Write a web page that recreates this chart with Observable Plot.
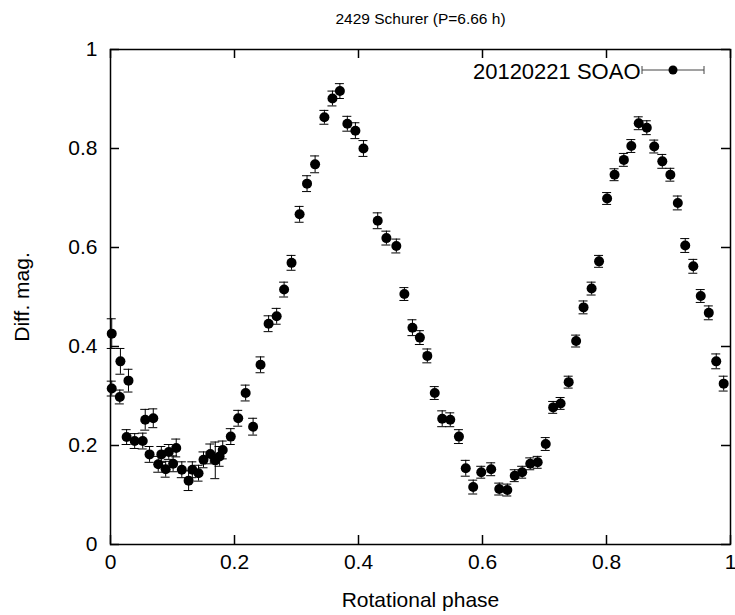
<!DOCTYPE html>
<html><head><meta charset="utf-8">
<script src="https://cdn.jsdelivr.net/npm/d3@7"></script>
<script src="https://cdn.jsdelivr.net/npm/@observablehq/plot@0.6"></script>
<style>
body{margin:0;background:#fff;}
#wrap{position:relative;width:735px;height:615px;font-family:"Liberation Sans",Arial,sans-serif;}
#legend{position:absolute;left:0;top:0;pointer-events:none;}
</style></head><body><div id="wrap"></div>
<script>
const title = "2429 Schurer (P=6.66 h)";
const seriesName = "20120221 SOAO";
const xLabel = "Rotational phase";
const yLabel = "Diff. mag.";
const xTicks = [0, 0.2, 0.4, 0.6, 0.8, 1];
const yTicks = [0, 0.2, 0.4, 0.6, 0.8, 1];

const phase = [0.002,0.002,0.015,0.016,0.026,0.029,0.039,0.052,0.056,0.063,0.069,0.077,0.082,0.089,0.094,0.101,0.106,0.115,0.126,0.132,0.142,0.150,0.161,0.169,0.176,0.181,0.194,0.206,0.218,0.230,0.242,0.255,0.268,0.280,0.292,0.305,0.317,0.330,0.345,0.358,0.370,0.382,0.395,0.408,0.431,0.445,0.461,0.474,0.487,0.499,0.511,0.523,0.535,0.548,0.562,0.573,0.585,0.598,0.614,0.627,0.640,0.652,0.664,0.677,0.689,0.702,0.714,0.726,0.739,0.751,0.763,0.776,0.788,0.801,0.813,0.828,0.840,0.852,0.865,0.877,0.890,0.903,0.915,0.927,0.940,0.952,0.965,0.977,0.989];
const mag = [0.426,0.315,0.298,0.370,0.217,0.331,0.209,0.209,0.252,0.182,0.255,0.162,0.182,0.152,0.187,0.163,0.195,0.151,0.129,0.151,0.144,0.171,0.183,0.170,0.178,0.191,0.218,0.255,0.306,0.238,0.363,0.446,0.461,0.515,0.569,0.667,0.729,0.768,0.863,0.901,0.916,0.850,0.836,0.800,0.654,0.619,0.603,0.506,0.438,0.418,0.381,0.306,0.254,0.252,0.218,0.154,0.116,0.146,0.152,0.112,0.110,0.139,0.146,0.163,0.166,0.203,0.277,0.285,0.328,0.411,0.479,0.517,0.572,0.699,0.747,0.777,0.805,0.851,0.842,0.804,0.774,0.747,0.690,0.604,0.562,0.502,0.468,0.370,0.325];
const err = [0.030,0.015,0.014,0.026,0.015,0.023,0.015,0.016,0.021,0.016,0.019,0.016,0.016,0.016,0.015,0.016,0.018,0.016,0.020,0.016,0.016,0.016,0.020,0.037,0.020,0.018,0.016,0.016,0.016,0.017,0.016,0.016,0.016,0.015,0.015,0.016,0.016,0.017,0.014,0.015,0.015,0.015,0.016,0.016,0.016,0.014,0.014,0.013,0.016,0.014,0.014,0.013,0.016,0.014,0.014,0.016,0.014,0.012,0.013,0.012,0.012,0.012,0.012,0.012,0.012,0.013,0.012,0.012,0.012,0.012,0.013,0.013,0.012,0.012,0.012,0.013,0.013,0.013,0.014,0.013,0.014,0.013,0.014,0.014,0.014,0.013,0.014,0.015,0.015];

const data = phase.map((p, i) => ({phase: p, mag: mag[i], lo: mag[i] - err[i], hi: mag[i] + err[i]}));

const W = 735, H = 615, mL = 110, mR = 5, mT = 49, mB = 71;
const innerH = H - mT - mB, innerW = W - mL - mR;
const font = "'Liberation Sans', Arial, sans-serif";
const fmt = d => String(d);

const chart = Plot.plot({
  width: W, height: H,
  marginLeft: mL, marginRight: mR, marginTop: mT, marginBottom: mB,
  style: {fontFamily: font, fontSize: "21px", color: "#000", background: "#fff", overflow: "visible"},
  x: {domain: [0, 1]},
  y: {domain: [0, 1]},
  marks: [
    Plot.axisX(xTicks, {tickSize: 0, tickPadding: 10, tickFormat: fmt, label: null, fontSize: 21}),
    Plot.axisY(yTicks, {tickSize: 0, tickPadding: 13, tickFormat: fmt, label: null, fontSize: 21}),
    Plot.ruleX(xTicks, {x: d => d, insetTop: innerH - 9, stroke: "#000", strokeWidth: 1.5}),
    Plot.ruleX(xTicks, {x: d => d, insetBottom: innerH - 9, stroke: "#000", strokeWidth: 1.5}),
    Plot.ruleY(yTicks, {y: d => d, insetRight: innerW - 9, stroke: "#000", strokeWidth: 1.5}),
    Plot.ruleY(yTicks, {y: d => d, insetLeft: innerW - 9, stroke: "#000", strokeWidth: 1.5}),
    Plot.frame({stroke: "#000", strokeWidth: 1.5}),
    Plot.ruleX(data, {x: "phase", y1: "lo", y2: "hi", stroke: "#000", strokeWidth: 1}),
    Plot.ruleY(data, {y: "lo", x1: "phase", x2: "phase", insetLeft: -4.5, insetRight: -4.5, stroke: "#000", strokeWidth: 1}),
    Plot.ruleY(data, {y: "hi", x1: "phase", x2: "phase", insetLeft: -4.5, insetRight: -4.5, stroke: "#000", strokeWidth: 1}),
    Plot.dot(data, {x: "phase", y: "mag", r: 5, fill: "#000", stroke: "none"}),
    Plot.text([title], {frameAnchor: "top", dy: -30, lineAnchor: "middle", textAnchor: "middle", fontSize: 15.5, fill: "#000"}),
    Plot.text([xLabel], {frameAnchor: "bottom", dy: 56, lineAnchor: "middle", textAnchor: "middle", fontSize: 21, fill: "#000"}),
    Plot.text([yLabel], {frameAnchor: "left", dx: -88, rotate: -90, lineAnchor: "middle", textAnchor: "middle", fontSize: 21, fill: "#000"}),
    Plot.text([seriesName], {frameAnchor: "top-right", dx: -90, dy: 22, lineAnchor: "middle", textAnchor: "end", fontSize: 22, fill: "#000"})
  ]
});

const wrap = document.getElementById("wrap");
wrap.appendChild(chart);

// legend sample (error bar + point)
const ns = "http://www.w3.org/2000/svg";
const lg = document.createElementNS(ns, "svg");
lg.setAttribute("id", "legend");
lg.setAttribute("width", W);
lg.setAttribute("height", H);
const x0 = W - mR - 88, x1 = W - mR - 26, yc = mT + 21;
const add = (tag, attrs) => { const e = document.createElementNS(ns, tag); for (const k in attrs) e.setAttribute(k, attrs[k]); lg.appendChild(e); };
add("line", {x1: x0, x2: x1, y1: yc, y2: yc, stroke: "#444", "stroke-width": 1});
add("line", {x1: x0, x2: x0, y1: yc - 4, y2: yc + 4, stroke: "#444", "stroke-width": 1});
add("line", {x1: x1, x2: x1, y1: yc - 4, y2: yc + 4, stroke: "#444", "stroke-width": 1});
add("circle", {cx: (x0 + x1) / 2, cy: yc, r: 4.5, fill: "#000"});
wrap.appendChild(lg);
</script>
</body></html>
